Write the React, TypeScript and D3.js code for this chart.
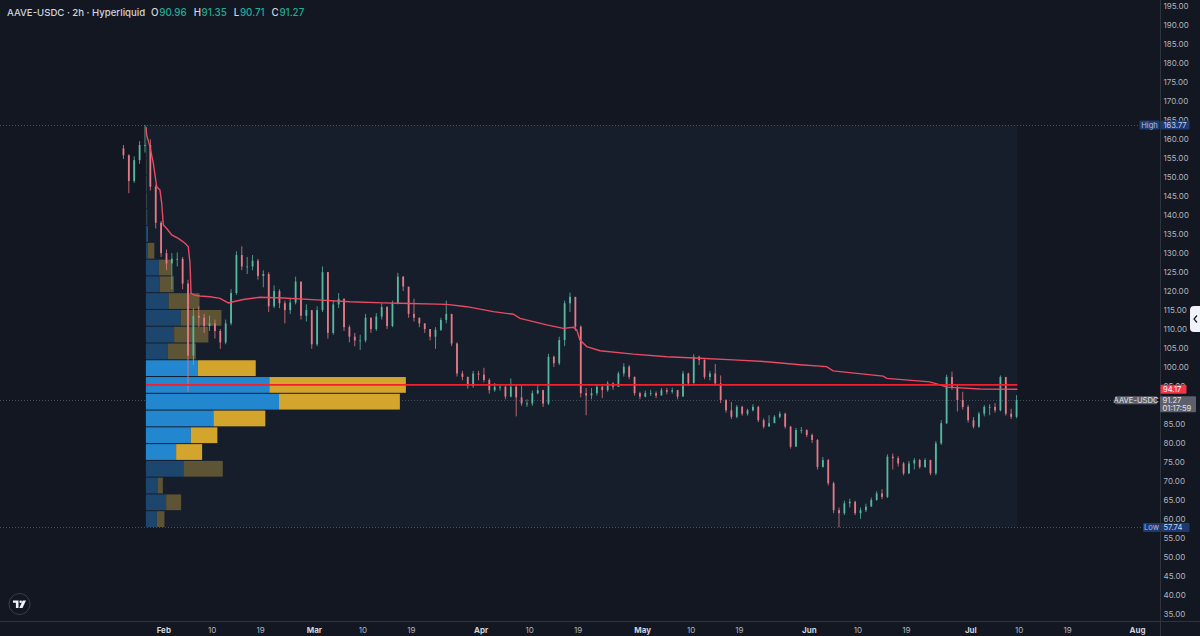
import React, { useEffect, useRef } from "react";
import * as d3 from "d3";

const WIDTH = 1200;
const HEIGHT = 636;
const FONT = "Inter, 'Noto Sans', sans-serif";

// daily summary of the 2h bars, first day 2025-01-24
const firstDay = Date.UTC(2025, 0, 24);
const firstOpen = 157.6;
const closes = [
  155.8, 149, 154.5, 158.5, 158.5, 147.5, 138, 130,
  127.3, 128.5, 128.5, 122, 103, 113.5, 113, 110.8, 111.5, 109.5, 106.5, 111.5, 119.5, 129.5, 126.5, 126.5, 128, 124, 124.5, 116, 120, 116.8, 115, 117, 122.5, 113.5, 115, 106,
  115, 125, 109, 116.5, 118, 110.5, 108, 107, 107, 113, 110, 113.3, 115.8, 110.8, 116.8, 123.8, 121.2, 114, 113, 111.5, 110, 108, 109.8, 112.4, 114, 106.2, 98.3, 97.4, 95, 98.3, 98,
  96.6, 93.9, 94.8, 94.8, 92.2, 94.8, 92, 90.4, 90.4, 93.1, 93.9, 90.4, 102.7, 101, 107.1, 116.8, 118.5, 110.6, 93.1, 92.5, 93.1, 94.8, 93.9, 95.7, 94.8, 98.3, 100.1, 97.4, 93.1, 92.2,
  93.1, 93.1, 92.5, 93.9, 93.5, 93.9, 92.2, 98.3, 95.7, 102.7, 101.9, 97.4, 98.3, 95.7, 91.3, 88.6, 86.9, 89.5, 87.7, 88.6, 89.5, 86, 84.3, 85.2, 86.9, 87.7, 84.3, 79, 83.4, 83.4, 82.1,
  80.8, 73.7, 75.5, 69.4, 62.3, 61.5, 64.1, 64.5, 61.5, 62.3, 63.2, 65, 66.7, 65.8, 76.4, 76, 74.6, 72, 74.6, 75.5, 73.7, 75.5, 72, 79.9, 85.2, 97.4, 94.8, 91.3, 89.5, 86,
  84.3, 87.7, 89.5, 89.5, 88.6, 97.4, 87.7, 86.9, 91.27,
];
const highs = [
  158.5, 156, 155.5, 159.5, 163.77, 160, 148, 138.5,
  131, 130, 130.2, 129, 123, 115.5, 116, 114, 113.5, 112.5, 110, 112.5, 120.5, 130.5, 131.8, 129, 129.5, 128.5, 125.5, 125, 121.5, 120.5, 117.5, 118, 123.8, 122.5, 116.5, 115,
  116, 126.5, 125, 117.5, 119.5, 118, 111, 109, 108.5, 114, 113, 114.2, 116.8, 116, 117.5, 124.8, 124, 121, 118, 113, 111.5, 110, 110.5, 113, 117.5, 114, 106.5, 99, 97.5, 99, 99,
  99.8, 97, 95.8, 95.5, 95, 97, 95.5, 95.2, 91.5, 93.8, 95.5, 94, 103.5, 103, 108, 117.5, 119.6, 118, 111, 94.5, 94.5, 95.5, 95, 96.3, 96, 98.8, 101, 100.5, 97.5, 93.5,
  93.8, 94, 93.6, 94.5, 94.5, 94.6, 94, 99, 98.5, 103.4, 103, 102, 99, 100.8, 97.8, 91.5, 90.8, 90, 89.8, 89, 90.2, 89.8, 86.5, 87.3, 87.3, 88.3, 88, 84.5, 84, 84.2, 83.6,
  82.5, 81, 76.3, 75.8, 69.8, 63, 64.8, 65.3, 64.8, 63, 64, 65.6, 67.3, 67.8, 77, 77.2, 76.5, 75, 75.3, 76, 75.8, 76, 75.6, 80.5, 86, 98, 98.8, 95.5, 93.5, 90,
  86.8, 88.2, 90, 90.2, 90.5, 97.8, 97, 89, 92.6,
];
const lows = [
  154.8, 145.8, 148.5, 153.5, 156.5, 146.5, 136.5, 129,
  125.5, 120.5, 126.5, 120.5, 93.5, 100.5, 110.5, 109, 109.5, 107.5, 104.8, 106, 111, 119, 125.5, 124.5, 125.5, 123, 121, 114.5, 115.5, 115.5, 111.5, 114, 116.5, 112.5, 112, 104.8,
  105.5, 114.5, 107.5, 108.5, 115.5, 109.5, 106.5, 105.5, 104.5, 106.5, 109, 109.5, 112.5, 110, 110.5, 116.5, 120, 113, 112, 110.5, 109, 107, 104.8, 109.5, 111.5, 105.5, 97.5, 96.5, 94.3, 94.5, 96.5,
  96, 93, 93.5, 93.8, 91.5, 92, 87, 89.8, 89.5, 89.8, 92.8, 89.5, 90, 100, 100.5, 105.5, 114.5, 109.5, 92, 87.3, 91.5, 92.5, 91.8, 93.5, 94, 94.8, 97.5, 96.8, 92.5, 91.5,
  92, 92.4, 91.8, 92.6, 92.8, 93, 91.5, 92.5, 95, 96, 100.5, 96.8, 96.5, 95, 90.5, 88, 86.3, 86.5, 87.2, 87.2, 88.3, 85.5, 83.8, 84.5, 85.5, 86.5, 83.8, 78.5, 79.5, 82.5, 81.5,
  80, 73, 73.5, 68.8, 61.5, 57.74, 61, 63, 61, 60, 61.8, 63.5, 64.8, 65.2, 65.5, 73, 73.8, 71.5, 71.8, 73, 73.2, 73.4, 71.5, 71.5, 79.5, 85, 94, 88.3, 88.8, 85.4,
  83.8, 84, 87, 87.3, 88, 88.3, 87.2, 86.3, 86.5,
];

// anchored VWAP from the Jan 28 high, day offsets from Feb 1
const vwapDays = [
  -3.3, -3.18, -2.57, -1.95, -1.32, -0.71, -0.39, -0.09, 0.54, 1.47, 2.7, 3.94, 4.55, 4.87, 5.06, 5.8,
  6.73, 8.59, 10.45, 11.99, 12.92, 14.78, 17.88, 22.21, 28.42, 34.61, 40.8, 43.9, 52.58, 56.3, 61.25,
  64.96, 66.21, 71.17, 74.26, 76.12, 76.75, 77.36, 78.61, 81.08, 87.27, 93.48, 99.67, 105.86, 112.06,
  118.25, 123.2, 124.4, 133.7, 134.4, 142.4, 144.3, 145.5, 151.7, 158.67,
];
const vwapValues = [
  163.2, 161.1, 158.0, 153.7, 147.5, 146.6, 143.1, 137.4, 136.5, 134.8, 133.9, 132.6, 131.7, 127.3, 119.4, 118.9,
  118.7, 118.5, 118.1, 116.9, 117.2, 117.8, 118.4, 118.2, 117.7, 117.2, 116.9, 116.8, 116.5, 115.9, 114.6,
  113.9, 112.8, 111.1, 110.2, 110.5, 109.8, 107.1, 105.4, 104.3, 103.4, 102.7, 102.3, 101.9, 101.4,
  100.6, 100.1, 99.0, 97.6, 97.0, 96.1, 95.3, 94.7, 94.2, 94.17,
];

// visible range volume profile, 24 rows from the low upwards
const upVolume = [11, 20.3, 11.6, 37.6, 30.3, 45, 67.6, 133.3, 123.6, 52, 22, 28.3, 35, 22.7, 14, 13, 2, 1.2, 0.8, 0.7, 0.6, 0.5, 0.4, 0.2];
const downVolume = [7.6, 15, 5.4, 39.4, 26, 26.6, 52, 121, 136.7, 58, 28, 34.3, 40.7, 31, 14, 13, 6.5, 0.8, 0.6, 0.5, 0.4, 0.4, 0.3, 0.2];
const valueAreaRows = [4, 9];

const rangeHigh = 163.77;
const rangeLow = 57.74;
const anchorTime = Date.UTC(2025, 0, 28, 16);
const lastTime = Date.UTC(2025, 6, 9, 16);
const lastPrice = 91.27;
const vwapLast = 94.17;
const countdown = "01:17:59";

const symbol = "AAVE-USDC · 2h · Hyperliquid";
const ohlcKeys = ["O", "H", "L", "C"];
const ohlcValues = ["90.96", "91.35", "90.71", "91.27"];

const timeTicks = [
  "2025-02-01", "2025-02-10", "2025-02-19", "2025-03-01", "2025-03-10", "2025-03-19",
  "2025-04-01", "2025-04-10", "2025-04-19", "2025-05-01", "2025-05-10", "2025-05-19",
  "2025-06-01", "2025-06-10", "2025-06-19", "2025-07-01", "2025-07-10", "2025-07-19", "2025-08-01",
];

const DAY = 86400000;
const feb1 = Date.UTC(2025, 1, 1);
const UP = "#58b7a0";
const DOWN = "#e57985";

const App: React.FC = () => {
  const svgRef = useRef<SVGSVGElement | null>(null);

  useEffect(() => {
    if (!svgRef.current) return;
    document.body.style.margin = "0";
    const svg = d3.select(svgRef.current);
    svg.selectAll("*").remove();

    const x = d3.scaleUtc()
      .domain([new Date(feb1), new Date(Date.UTC(2025, 7, 1))])
      .range([163.8, 1137.6]);
    const y = d3.scaleLinear().domain([35, 195]).range([613.8, 6.4]);

    svg.append("rect").attr("width", WIDTH).attr("height", HEIGHT).attr("fill", "#131722");

    const x0 = x(new Date(anchorTime));
    const x1 = x(new Date(lastTime));

    // range box
    svg.append("rect")
      .attr("x", x0).attr("y", y(rangeHigh))
      .attr("width", x1 - x0).attr("height", y(rangeLow) - y(rangeHigh))
      .attr("fill", "#161d2b");

    const dotted = (py: number, xEnd: number) =>
      svg.append("line")
        .attr("x1", 0).attr("x2", xEnd).attr("y1", py).attr("y2", py)
        .attr("stroke", "#4a4e5a").attr("stroke-width", 1)
        .attr("stroke-dasharray", "1,2");
    dotted(Math.round(y(rangeHigh)) + 0.5, 1140);
    dotted(Math.round(y(rangeLow)) + 0.5, 1143);
    dotted(Math.round(y(lastPrice)) + 0.5, 1115);

    // volume profile
    const rowH = (rangeHigh - rangeLow) / upVolume.length;
    const totals = upVolume.map((u, i) => u + downVolume[i]);
    const w = d3.scaleLinear().domain([0, d3.max(totals)!]).range([0, 260]);
    const rows = upVolume.map((u, i) => ({
      i, up: u, down: downVolume[i],
      top: y(rangeLow + (i + 1) * rowH), bottom: y(rangeLow + i * rowH),
      inVA: i >= valueAreaRows[0] && i <= valueAreaRows[1],
    }));
    const prof = svg.append("g");
    prof.selectAll("rect.up").data(rows).join("rect")
      .attr("x", x0).attr("y", d => d.top + 0.5)
      .attr("width", d => w(d.up)).attr("height", d => d.bottom - d.top - 1)
      .attr("fill", d => d.inVA ? "#2387cf" : "#1d466f");
    prof.selectAll("rect.down").data(rows).join("rect")
      .attr("x", d => x0 + w(d.up)).attr("y", d => d.top + 0.5)
      .attr("width", d => w(d.down)).attr("height", d => d.bottom - d.top - 1)
      .attr("fill", d => d.inVA ? "#d3a52c" : "#5c5434");

    // candles
    const candles = closes.map((c, i) => ({
      t: new Date(firstDay + i * DAY + DAY / 2),
      o: i === 0 ? firstOpen : closes[i - 1], c, h: highs[i], l: lows[i],
    }));
    const cg = svg.append("g");
    cg.selectAll("line").data(candles).join("line")
      .attr("x1", d => x(d.t)).attr("x2", d => x(d.t))
      .attr("y1", d => y(d.h)).attr("y2", d => y(d.l))
      .attr("stroke", d => d.c >= d.o ? UP : DOWN).attr("stroke-width", 0.8);
    cg.selectAll("rect").data(candles).join("rect")
      .attr("x", d => x(d.t) - 0.9).attr("width", 1.8)
      .attr("y", d => y(Math.max(d.o, d.c)))
      .attr("height", d => Math.max(0.8, Math.abs(y(d.o) - y(d.c))))
      .attr("fill", d => d.c >= d.o ? UP : DOWN);

    // anchored vwap
    const line = d3.line<number>()
      .x((d, i) => x(new Date(feb1 + vwapDays[i] * DAY)))
      .y(d => y(d));
    svg.append("path").attr("d", line(vwapValues)!)
      .attr("fill", "none").attr("stroke", "#ea4a62").attr("stroke-width", 1.4);

    // point of control
    const poc = totals.indexOf(d3.max(totals)!);
    const pocY = y(rangeLow + (poc + 0.5) * rowH);
    svg.append("line").attr("x1", x0).attr("x2", x1).attr("y1", pocY).attr("y2", pocY)
      .attr("stroke", "#f2202c").attr("stroke-width", 1.8);

    // price axis
    svg.append("line").attr("x1", 1160.5).attr("x2", 1160.5).attr("y1", 0).attr("y2", HEIGHT)
      .attr("stroke", "#2f333e");
    svg.append("line").attr("x1", 0).attr("x2", WIDTH).attr("y1", 621.5).attr("y2", 621.5)
      .attr("stroke", "#2f333e");
    // the 90.00 label sits fully under the last price tag
    const priceTicks = y.ticks(32).filter(v => Math.abs(y(v) - y(lastPrice) - 4) > 8);
    svg.append("g").attr("font-family", FONT).attr("font-size", 8).attr("fill", "#b2b5be")
      .selectAll("text").data(priceTicks).join("text")
      .attr("x", 1163.5).attr("y", d => y(d)).attr("dy", "0.35em")
      .text(d => d3.format(".2f")(d));

    // time axis
    const fmt = (d: Date) => d.getUTCDate() === 1 ? d3.utcFormat("%b")(d) : d3.utcFormat("%-d")(d);
    svg.append("g").attr("font-family", FONT).attr("font-size", 8).attr("text-anchor", "middle")
      .selectAll("text").data(timeTicks.map(s => new Date(s + "T00:00:00Z"))).join("text")
      .attr("x", d => x(d)).attr("y", 633)
      .attr("fill", d => d.getUTCDate() === 1 ? "#d1d4dc" : "#b2b5be")
      .attr("font-weight", d => d.getUTCDate() === 1 ? 700 : 400)
      .text(fmt);

    // axis tags
    const tag = (px: number, py: number, w0: number, h0: number, fill: string, label: string, color: string, anchor = "start") => {
      svg.append("rect").attr("x", px).attr("y", py - h0 / 2).attr("width", w0).attr("height", h0)
        .attr("fill", fill).attr("rx", 1);
      svg.append("text").attr("x", anchor === "start" ? px + 2.5 : px + w0 / 2).attr("y", py)
        .attr("dy", "0.36em").attr("font-family", FONT).attr("font-size", 7.6)
        .attr("text-anchor", anchor).attr("fill", color).text(label);
    };
    tag(1139.5, y(rangeHigh), 20, 9, "#1c3a70", "High", "#a9bfe9", "middle");
    tag(1161, y(rangeHigh), 28.5, 9, "#1c3a70", d3.format(".2f")(rangeHigh), "#c3d3f3");
    tag(1143, y(rangeLow), 17, 9, "#1c3a70", "Low", "#a9bfe9", "middle");
    tag(1161, y(rangeLow), 28.5, 9, "#1c3a70", d3.format(".2f")(rangeLow), "#c3d3f3");
    tag(1160.5, y(vwapLast), 26, 9, "#f23645", d3.format(".2f")(vwapLast), "#ffffff");
    tag(1115, y(lastPrice), 42, 8, "#5d606b", "AAVE-USDC", "#e0e3eb", "middle");
    svg.append("rect").attr("x", 1160).attr("y", y(lastPrice) - 4).attr("width", 36).attr("height", 16)
      .attr("fill", "#5d606b").attr("rx", 1);
    svg.append("text").attr("x", 1162.5).attr("y", y(lastPrice)).attr("dy", "0.36em")
      .attr("font-family", FONT).attr("font-size", 7.6).attr("fill", "#e0e3eb")
      .text(d3.format(".2f")(lastPrice));
    svg.append("text").attr("x", 1162.5).attr("y", y(lastPrice) + 8).attr("dy", "0.36em")
      .attr("font-family", FONT).attr("font-size", 7.6).attr("fill", "#e0e3eb").text(countdown);

    // collapse tab
    svg.append("rect").attr("x", 1190).attr("y", 306).attr("width", 14).attr("height", 26)
      .attr("rx", 4).attr("fill", "#f0f3fa");
    svg.append("path").attr("d", "M1197,315.5 L1194,319 L1197,322.5")
      .attr("fill", "none").attr("stroke", "#131722").attr("stroke-width", 1.2);

    // header
    const head = svg.append("text").attr("x", 7).attr("y", 16)
      .attr("font-family", FONT).attr("font-size", 9.6).attr("font-weight", 500).attr("fill", "#d1d4dc");
    head.append("tspan").text(symbol);
    ohlcKeys.forEach((k, i) => {
      head.append("tspan").attr("dx", i === 0 ? 6 : 7).attr("font-size", 9.8).attr("fill", "#d1d4dc").text(k);
      head.append("tspan").attr("dx", 0.6).attr("font-size", 9.8).attr("fill", "#22ab94").text(ohlcValues[i]);
    });

    // logo
    const logo = svg.append("g").attr("transform", "translate(19.5,604)");
    logo.append("circle").attr("r", 10.5).attr("fill", "#131722").attr("stroke", "#3a3e49");
    logo.append("path").attr("d", "M-6.5,-3.5 H-1 V4 H-3.6 V-1.2 H-6.5 Z").attr("fill", "#f0f3fa");
    logo.append("circle").attr("cx", 1.2).attr("cy", -2.2).attr("r", 1.3).attr("fill", "#f0f3fa");
    logo.append("path").attr("d", "M3.2,-3.5 H6.5 L3,4 H-0.2 Z").attr("fill", "#f0f3fa");
  }, []);

  return <svg ref={svgRef} width={WIDTH} height={HEIGHT} style={{ display: "block" }} />;
};

export default App;
